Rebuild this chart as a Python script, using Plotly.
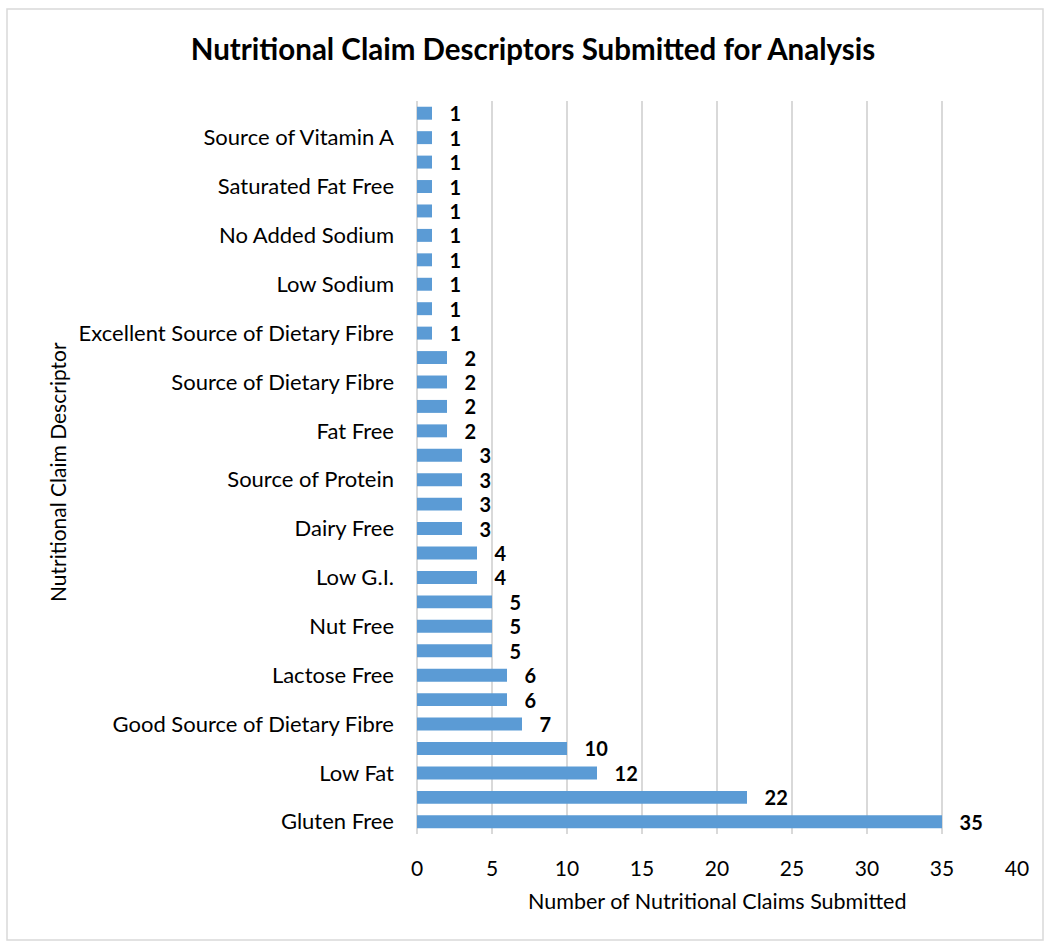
import plotly.graph_objects as go

# Claim descriptors, bottom of the chart to top ("" = label not shown on the axis)
descriptors = [
    "Gluten Free", "", "Low Fat", "", "Good Source of Dietary Fibre", "",
    "Lactose Free", "", "Nut Free", "", "Low G.I.", "", "Dairy Free", "",
    "Source of Protein", "", "Fat Free", "", "Source of Dietary Fibre", "",
    "Excellent Source of Dietary Fibre", "", "Low Sodium", "", "No Added Sodium", "",
    "Saturated Fat Free", "", "Source of Vitamin A", "",
]
claims = [35, 22, 12, 10, 7, 6, 6, 5, 5, 5, 4, 4, 3, 3, 3, 3, 2, 2, 2, 2,
          1, 1, 1, 1, 1, 1, 1, 1, 1, 1]
positions = list(range(len(claims)))
x_ticks = [0, 5, 10, 15, 20, 25, 30, 35, 40]

FONT = "Lato, Calibri, Carlito, sans-serif"
BAR_BLUE = "#5B9BD5"
GRID = "#D9D9D9"

W, H = 1045, 942
L, R, T, B = 417, 28, 101, 108
pw, ph = W - L - R, H - T - B

fig = go.Figure(
    go.Bar(
        x=claims,
        y=positions,
        orientation="h",
        marker=dict(color=BAR_BLUE, line=dict(width=0)),
        texttemplate="\u00a0\u00a0\u00a0%{x}",
        textposition="outside",
        constraintext="none",
        textfont=dict(family=FONT, size=20, color="#000000", weight="bold"),
        cliponaxis=False,
        width=0.53,
        hoverinfo="skip",
    )
)

fig.update_layout(
    width=W,
    height=H,
    margin=dict(l=L, r=R, t=T, b=B, autoexpand=False),
    paper_bgcolor="white",
    plot_bgcolor="white",
    showlegend=False,
    title=dict(
        text="<b>Nutritional Claim Descriptors Submitted for Analysis</b>",
        font=dict(family=FONT, size=29.5, color="#000000"),
        x=533 / W,
        xanchor="center",
        xref="container",
        y=1 - 50 / H,
        yanchor="middle",
        yref="container",
    ),
    font=dict(family=FONT, size=21, color="#000000"),
)

fig.update_xaxes(
    range=[0, 40],
    tickvals=x_ticks,
    showgrid=True,
    gridcolor=GRID,
    gridwidth=1.5,
    zeroline=True,
    zerolinecolor=GRID,
    zerolinewidth=1.5,
    showline=False,
    ticks="",
    ticklabelstandoff=20,
    tickfont=dict(family=FONT, size=21, color="#000000"),
    fixedrange=True,
)

fig.update_yaxes(
    range=[-0.5, len(claims) - 0.5],
    tickvals=positions,
    ticktext=descriptors,
    showgrid=False,
    zeroline=False,
    showline=False,
    ticks="",
    ticklabelstandoff=22,
    tickfont=dict(family=FONT, size=22, color="#000000"),
    fixedrange=True,
)

# Axis titles
fig.add_annotation(
    text="Number of Nutritional Claims Submitted",
    xref="paper", yref="paper",
    x=(717 - L) / pw, y=(H - B - 901) / ph,
    xanchor="center", yanchor="middle",
    showarrow=False,
    font=dict(family=FONT, size=21.5, color="#000000"),
)
fig.add_annotation(
    text="Nutritional Claim Descriptor",
    xref="paper", yref="paper",
    x=(57 - L) / pw, y=(H - B - 472) / ph,
    xanchor="center", yanchor="middle",
    textangle=-90,
    showarrow=False,
    font=dict(family=FONT, size=21, color="#000000"),
)

# Chart frame
fig.add_shape(
    type="rect",
    xref="paper", yref="paper",
    x0=(7 - L) / pw, x1=(1043 - L) / pw,
    y0=(H - B - 940) / ph, y1=(H - B - 9) / ph,
    line=dict(color="#D9D9D9", width=1.5),
    fillcolor="rgba(0,0,0,0)",
    layer="below",
)

fig.write_html("out.html")
